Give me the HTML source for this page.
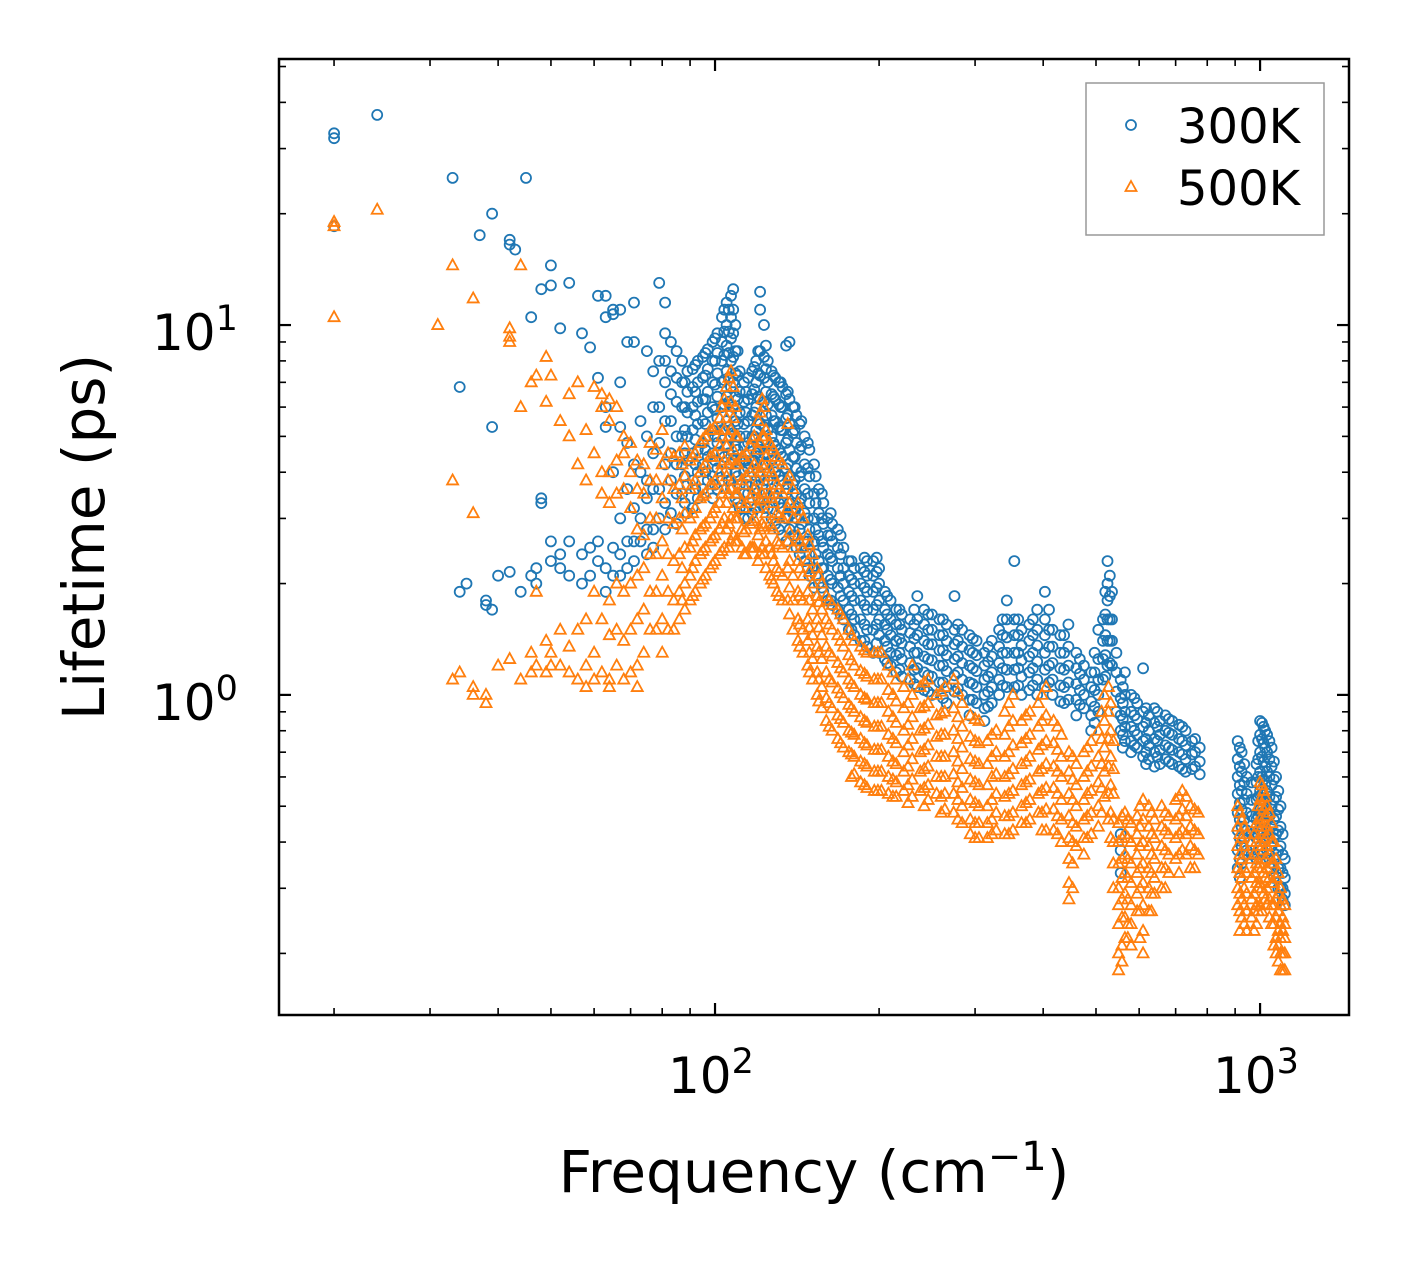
<!DOCTYPE html>
<html><head><meta charset="utf-8"><style>
html,body{margin:0;padding:0;background:#fff;}
svg text{font-family:"DejaVu Sans","Liberation Sans",sans-serif;fill:#000;}
</style></head><body>
<svg id="chart" width="1408" height="1265" viewBox="0 0 1408 1265" xmlns="http://www.w3.org/2000/svg">
<rect width="1408" height="1265" fill="#fff"/>
<g id="marks"></g>
<g id="ticks"></g>
<rect x="279" y="59" width="1070" height="956" fill="none" stroke="#000" stroke-width="2.5"/>
<text x="668" y="1093" font-size="50">10<tspan dy="-20" font-size="35">2</tspan></text>
<text x="1213" y="1093" font-size="50">10<tspan dy="-20" font-size="35">3</tspan></text>
<text x="152" y="350" font-size="50">10<tspan dy="-20" font-size="35">1</tspan></text>
<text x="152" y="720" font-size="50">10<tspan dy="-20" font-size="35">0</tspan></text>
<text x="814" y="1192" font-size="58" text-anchor="middle">Frequency (cm<tspan dy="-22" font-size="40">−1</tspan><tspan dy="22">)</tspan></text>
<text transform="translate(104,537) rotate(-90)" font-size="58" text-anchor="middle">Lifetime (ps)</text>
<g>
<rect x="1086" y="83" width="238" height="152" fill="#fff" stroke="#999" stroke-width="1.5"/>
<circle cx="1131" cy="125" r="5" fill="none" stroke="#1f77b4" stroke-width="1.8"/>
<text x="1177" y="143" font-size="48">300K</text>
<polygon points="1131,181 1136.5,191 1125.5,191" fill="none" stroke="#ff7f0e" stroke-width="1.8"/>
<text x="1177" y="205" font-size="48">500K</text>
</g>
</svg>
<script>
const freq300 = [20,24,33,34,35,37,38,39,40,42,43,44,45,46,47,48,50,52,54,57,59,61,63,65,67,69,71,73,75,77,79,81,83,85,87,89,91,93,95,97,99,101,103,105,107,109,111,113,115,117,119,121,123,125,127,129,131,133,135,137,139,141,143,146,149,152,155,158,161,164,168,172,176,180,185,190,195,200,205,210,215,220,228,235,242,250,258,266,275,284,293,302,312,322,332,343,354,365,377,390,403,416,430,445,460,475,490,505,515,525,535,545,555,565,580,595,610,625,640,655,670,690,710,730,750,775,910,925,945,965,985,1000,1015,1030,1050,1070,1090,1110];
const life300 = [[33,32,18.5],[37],[25],[6.8,1.9],[2],[17.5],[1.75,1.8],[20,5.3,1.7],[2.1],[17,16.5,2.15],[16],[1.9],[25],[10.5,2.1],[2.2,2],[12.5,3.4,3.3],[14.5,12.8,2.6,2.3],[9.8,2.4,2.2],[13,2.1,2.6],[9.5,2.4,2],[8.7,2.5,2.1],[12,7.2,2.6,2.3],[12,10.5,6,5.3,2.2,1.9],[11,10.7,4,2.5,2.1],[11,7,5.3,3,2.4,2.1],[9,4.8,3.6,2.6,2.2],[11.5,9,4.2,3.2,2.6,2.3],[5.5,4,3,2.6],[8.5,5,3.8,3.4,2.8,2.4],[7.5,6,4.5,3.6,2.8,2.5],[13,8,6,4.8,3.6,3],[11.5,9.5,8,7,5.5,4.2,3.3,2.8],[9,7.5,6.5,5.5,4.5,3.8,3.1],[8.5,7.2,6.2,5,4.2,3.5,2.9],[8,7,6,5,4.2,3.5],[7.5,6.6,5.8,5,4.3,3.7,3.1],[7.6,6.8,6,5.2,4.5,3.8,3.2],[8,7,6.2,5.4,4.6,4,3.4],[8.2,7.2,6.3,5.5,4.8,4.2,3.6],[8.6,7.6,6.6,5.8,5,4.4,3.8],[9,8,7,6,5.2,4.5,3.9,3.4],[9.5,8.4,7.4,6.4,5.6,4.8,4.1,3.6],[10.5,9,8,7,6,5.2,4.5,3.8],[11.5,10,8.8,7.5,6.4,5.5,4.7,4],[12,10.5,9.2,8,6.8,5.8,5,4.2,3.6],[10,8.5,7.4,6.4,5.5,4.7,4,3.4],[7.5,6.6,5.8,5,4.3,3.7,3.2],[7,6.2,5.4,4.7,4,3.5,3],[7.2,6.3,5.5,4.8,4.1,3.5,3],[7.5,6.5,5.7,5,4.3,3.7,3.1],[8,7,6,5.2,4.5,3.8,3.2],[12.3,11,8.5,7.3,6.3,5.4,4.6,3.9,3.3],[10,8.2,7.2,6.2,5.3,4.5,3.8,3.2],[8,7,6.1,5.2,4.5,3.8,3.2],[7.5,6.5,5.7,5,4.3,3.6,3],[7.2,6.3,5.5,4.7,4,3.4,2.9],[7,6.1,5.3,4.6,3.9,3.3,2.8],[6.8,6,5.2,4.4,3.8,3.2,2.7],[8.8,6.5,5.6,4.8,4.1,3.5,3,2.6],[9,6.3,5.4,4.6,3.9,3.3,2.8],[6,5.1,4.4,3.7,3.1,2.7],[5.7,4.8,4.1,3.5,3,2.5],[5.4,4.6,3.9,3.3,2.8,2.4],[5,4.2,3.6,3.1,2.6,2.3],[4.6,3.9,3.3,2.8,2.4,2.1],[4.2,3.5,3,2.6,2.2,1.95],[3.6,3.1,2.7,2.3,2],[3.3,2.9,2.5,2.2,1.9],[3,2.7,2.4,2.1,1.8],[2.9,2.6,2.3,2,1.75],[2.8,2.5,2.2,1.95,1.7],[2.5,2.2,2,1.8,1.6],[2.3,2.1,1.9,1.7,1.5],[2.2,2,1.8,1.6,1.45],[2.2,2,1.8,1.6,1.4],[2.3,2.1,1.9,1.7,1.5,1.35],[2.3,2.1,1.9,1.7,1.5,1.3],[2.2,2,1.8,1.6,1.45,1.3],[1.9,1.7,1.55,1.4,1.25],[1.8,1.6,1.45,1.3,1.2],[1.7,1.55,1.4,1.28,1.15],[1.65,1.5,1.38,1.25,1.12],[1.6,1.47,1.35,1.22,1.1],[1.85,1.6,1.45,1.3,1.18,1.05],[1.7,1.55,1.4,1.27,1.15,1.03],[1.65,1.5,1.37,1.24,1.12,1],[1.6,1.45,1.32,1.2,1.08],[1.55,1.4,1.28,1.16,1.05,0.95],[1.85,1.5,1.37,1.25,1.13,1.02],[1.5,1.35,1.22,1.1,1],[1.45,1.32,1.2,1.08,0.97,0.88],[1.4,1.28,1.16,1.05,0.95],[1.3,1.2,1.1,1,0.92,0.85],[1.4,1.27,1.15,1.05,0.95],[1.5,1.35,1.22,1.1,1],[1.8,1.6,1.43,1.3,1.17,1.05],[2.3,1.6,1.45,1.3,1.17,1.05],[1.5,1.36,1.24,1.12,1],[1.55,1.4,1.27,1.15,1.03],[1.7,1.5,1.36,1.23,1.1,1],[1.9,1.6,1.45,1.3,1.17,1.05],[1.5,1.35,1.22,1.1,1],[1.45,1.3,1.18,1.06,0.96],[1.55,1.35,1.2,1.08,0.97],[1.3,1.18,1.07,0.97,0.88],[1.2,1.1,1,0.92],[1.15,1.05,0.96,0.88,0.8],[1.5,1.25,1.1,1,0.9],[1.6,1.4,1.25,1.1],[2.3,2,1.8,1.6,1.4,1.2],[1.9,1.6,1.4,1.2],[1.3,1.15,1.02,0.9],[1.1,0.98,0.88,0.8,0.42,0.38,0.33],[1.15,1,0.9,0.82,0.75],[1,0.9,0.82,0.75,0.7],[0.95,0.86,0.78,0.72],[1.18,0.9,0.82,0.75,0.68],[0.88,0.8,0.73,0.67],[0.92,0.84,0.76,0.7,0.64],[0.85,0.78,0.71,0.65],[0.88,0.8,0.73,0.67],[0.85,0.78,0.71,0.65],[0.83,0.76,0.7,0.64],[0.8,0.73,0.67,0.62],[0.75,0.69,0.63],[0.72,0.66,0.61],[0.75,0.67,0.6,0.54,0.48,0.43,0.38,0.34],[0.7,0.62,0.55,0.49,0.44,0.39,0.35],[0.6,0.54,0.48,0.43,0.38],[0.58,0.52,0.47,0.42,0.37],[0.65,0.58,0.52,0.46,0.41,0.36],[0.85,0.78,0.7,0.62,0.55,0.49,0.43,0.38],[0.82,0.74,0.66,0.59,0.52,0.46,0.41],[0.78,0.7,0.62,0.55,0.49,0.43,0.38],[0.72,0.64,0.57,0.5,0.44,0.39,0.35],[0.6,0.53,0.47,0.42,0.37,0.33],[0.5,0.44,0.39,0.34,0.3],[0.36,0.32,0.29,0.27]];
const freq300b = [88,92,96,100,104,106,108,110,114,118,120,124,128,132,136,140,144,148,153,157,163,170,178,188,198,207,218,232,246,262,279,297,317,337,360,383,410,437,467,497,520,530,560,588,618,648,680,720,760,918,935,992,1008,1022,1040,1060,1080,1100];
const life300b = [[7,6,5.2,4.5,3.9,3.3],[7.8,6.6,5.7,4.9,4.2,3.6],[8.4,7.3,6.3,5.4,4.6,4],[9.2,8,6.9,5.9,5,4.3,3.7],[11,9.6,8.3,7.1,6.1,5.2,4.4],[11,9.6,8.4,7.2,6.2,5.3,4.5,3.8],[12.5,11,9.5,8.2,7,6,5.1,4.3],[8.5,7.3,6.3,5.4,4.6,3.9,3.3],[6.6,5.8,5,4.3,3.7,3.2],[7.7,6.7,5.8,5,4.3,3.6],[8.5,7.4,6.4,5.5,4.7,4,3.4],[8.8,7.6,6.6,5.7,4.9,4.2,3.5],[7.3,6.4,5.5,4.8,4.1,3.5],[7,6,5.2,4.5,3.8,3.2],[6.6,5.7,4.9,4.2,3.6,3],[6,5.2,4.4,3.8,3.2,2.7],[5.5,4.7,4,3.4,2.9,2.5],[4.8,4.1,3.5,3,2.6,2.2],[3.9,3.3,2.8,2.4,2.1],[3.5,3,2.6,2.2,1.95],[3.1,2.7,2.35,2.05,1.8],[2.7,2.4,2.1,1.85,1.65],[2.3,2.05,1.85,1.65,1.5],[2.35,2.15,1.95,1.75,1.55,1.4],[2.35,2.15,1.95,1.75,1.55,1.38],[1.85,1.65,1.5,1.35,1.22],[1.7,1.55,1.42,1.3,1.17],[1.7,1.55,1.42,1.3,1.17,1.07],[1.65,1.5,1.37,1.25,1.13,1.02],[1.6,1.45,1.32,1.2,1.08,0.98],[1.55,1.4,1.27,1.15,1.04],[1.42,1.3,1.18,1.07,0.97],[1.35,1.23,1.12,1.02,0.93],[1.6,1.45,1.3,1.18,1.06],[1.6,1.45,1.3,1.18,1.06],[1.6,1.45,1.3,1.18,1.06],[1.7,1.5,1.35,1.2,1.08],[1.45,1.3,1.17,1.05,0.95],[1.25,1.14,1.03,0.94],[1.3,1.15,1.03,0.93,0.84],[1.9,1.65,1.45,1.28,1.12],[2.1,1.85,1.6,1.4,1.22],[1.05,0.95,0.86,0.78,0.72],[0.98,0.88,0.8,0.73],[0.92,0.84,0.76,0.7,0.65],[0.9,0.82,0.75,0.68],[0.86,0.79,0.72,0.66],[0.82,0.75,0.69,0.63],[0.76,0.7,0.64],[0.72,0.64,0.57,0.51,0.46,0.41,0.36,0.32],[0.65,0.58,0.52,0.46,0.41,0.37],[0.75,0.67,0.6,0.53,0.47,0.42,0.37],[0.84,0.76,0.68,0.6,0.54,0.48,0.42,0.37],[0.8,0.72,0.64,0.57,0.51,0.45,0.4],[0.75,0.67,0.6,0.53,0.47,0.41,0.36],[0.66,0.59,0.52,0.46,0.41,0.36,0.32],[0.55,0.49,0.43,0.38,0.34,0.3],[0.42,0.37,0.33,0.3,0.28]];
const freq500 = [20,24,31,33,34,36,38,40,42,44,46,47,49,50,52,54,56,58,60,62,64,66,68,70,72,74,76,78,80,82,84,86,88,90,92,94,96,98,100,102,104,106,108,110,112,114,116,118,120,122,124,126,128,130,133,136,139,142,145,148,151,154,157,160,164,168,172,176,180,185,190,196,202,208,215,222,230,238,246,255,264,274,284,294,305,316,328,340,352,365,378,392,405,418,432,446,460,475,490,505,518,527,538,550,565,580,595,610,625,640,660,680,700,720,745,770,910,925,945,965,985,1000,1015,1030,1050,1070,1090,1110];
const life500 = [[19,18.5,10.5],[20.5],[10],[14.5,3.8,1.1],[1.15],[11.8,3.1,1.05,1],[1,0.95],[1.2],[9.8,9.3,9,1.25],[14.5,1.1,6],[7,1.15,1.3],[1.9,7.3,1.2],[6.2,8.2,1.4,1.15],[7.3,1.2,1.3],[5.5,1.5,1.2],[6.5,5,1.35,1.15],[7,4.2,1.5,1.1],[5.2,3.8,1.6,1.2,1.05],[6.8,4.5,1.9,1.3,1.1],[6.5,6,4,3.5,1.6,1.15],[6.3,5.5,4,3.3,1.8,1.45,1.1,1.05],[6,4.3,3.5,2,1.5,1.2],[5,4.5,3.6,1.9,1.4,1.1],[4.8,4,3.2,2,1.5,1.15],[4.3,3.6,2.8,2.1,1.6,1.2,1.05],[4.2,3.5,2.7,2.2,1.7,1.3],[4.8,3.8,3,2.4,1.9,1.5],[4.6,3.8,3,2.4,1.9,1.5],[5.2,4.2,3.4,2.6,2.1,1.6,1.3],[4.5,3.8,3,2.4,1.9,1.5],[4.4,3.6,2.9,2.3,1.8,1.5],[4.5,3.7,3,2.4,1.9,1.6],[4.7,3.9,3.1,2.5,2,1.7],[4.3,3.6,3,2.5,2.1,1.8],[4.5,3.8,3.2,2.7,2.3,1.9],[4.8,4,3.4,2.8,2.4,2],[5,4.2,3.5,2.9,2.5,2.1],[5.2,4.4,3.7,3,2.6,2.2],[5.3,4.5,3.8,3.2,2.7,2.3],[5.6,4.7,4,3.3,2.8,2.4],[6.3,5.2,4.3,3.6,3,2.5],[7.2,6,5,4.2,3.5,2.9,2.5],[6.8,5.6,4.6,3.8,3.2,2.7],[5,4.2,3.5,3,2.6],[4.4,3.8,3.3,2.8,2.5],[4.5,3.9,3.3,2.8,2.4],[4.7,4,3.4,2.9,2.5],[5,4.2,3.6,3,2.5],[5.5,4.6,3.8,3.2,2.7,2.3],[6.3,5,4.2,3.5,2.9,2.5],[5.2,4.4,3.7,3.1,2.6,2.2],[4.8,4.1,3.5,2.9,2.5,2.1],[4.6,3.9,3.3,2.8,2.3,2],[4.4,3.7,3.1,2.6,2.2,1.9],[4.2,3.5,3,2.5,2.1,1.8],[5.4,3.8,3.2,2.6,2.2,1.8],[3.6,3,2.5,2.1,1.8,1.5],[3.3,2.7,2.3,1.9,1.6,1.4],[3,2.5,2.1,1.8,1.5,1.3],[2.7,2.3,1.9,1.6,1.4,1.2],[2.4,2,1.7,1.45,1.25,1.1],[2.2,1.85,1.6,1.35,1.15,1],[2,1.7,1.45,1.25,1.05,0.92],[1.85,1.6,1.35,1.15,0.98,0.85],[1.75,1.5,1.27,1.08,0.92,0.8],[1.7,1.45,1.22,1.04,0.88,0.76],[1.6,1.35,1.15,0.98,0.84,0.72],[1.5,1.28,1.1,0.94,0.8,0.7],[1.4,1.2,1.05,0.9,0.78,0.68,0.61],[1.35,1.16,1,0.87,0.76,0.66,0.58],[1.3,1.12,0.97,0.84,0.73,0.64,0.56],[1.3,1.1,0.95,0.82,0.71,0.62,0.55],[1.3,1.1,0.95,0.82,0.71,0.62,0.55],[1.2,1.03,0.9,0.78,0.68,0.6,0.54],[1.1,0.96,0.84,0.74,0.65,0.58,0.53],[1.05,0.92,0.8,0.7,0.62,0.55],[1.2,1,0.87,0.76,0.67,0.59,0.53],[1.05,0.92,0.8,0.7,0.62,0.55],[1.1,0.95,0.83,0.73,0.64,0.57,0.52],[1,0.88,0.77,0.68,0.6,0.54],[1.05,0.9,0.78,0.68,0.6,0.54,0.49],[1.1,0.92,0.8,0.7,0.61,0.54,0.48],[0.95,0.82,0.72,0.63,0.56,0.5,0.45],[0.88,0.77,0.67,0.59,0.52,0.46,0.42],[0.85,0.74,0.65,0.57,0.5,0.45,0.41],[0.75,0.65,0.57,0.5,0.45,0.41],[0.8,0.7,0.61,0.54,0.48,0.43],[0.9,0.78,0.68,0.6,0.53,0.47,0.42],[1,0.85,0.73,0.63,0.55,0.48,0.43],[0.85,0.74,0.65,0.57,0.5,0.45],[0.9,0.78,0.68,0.59,0.52,0.46],[0.95,0.82,0.71,0.62,0.54,0.48],[1.05,0.88,0.75,0.65,0.56,0.49,0.43],[0.85,0.74,0.64,0.56,0.49,0.43],[0.78,0.68,0.6,0.52,0.46,0.4],[0.7,0.62,0.54,0.47,0.41,0.36,0.31,0.28],[0.65,0.57,0.5,0.44,0.39],[0.7,0.6,0.52,0.46,0.41,0.37],[0.75,0.64,0.55,0.48,0.42],[0.8,0.68,0.58,0.5,0.44],[1,0.85,0.72,0.62,0.53],[1.05,0.9,0.76,0.64,0.54,0.46],[0.75,0.63,0.54,0.46,0.4,0.35,0.3],[0.45,0.4,0.35,0.3,0.27,0.24,0.2,0.18],[0.48,0.42,0.37,0.33,0.29,0.25,0.22],[0.45,0.4,0.35,0.31,0.27,0.24,0.21],[0.47,0.42,0.37,0.33,0.29,0.26],[0.52,0.46,0.4,0.35,0.31,0.27,0.23,0.2],[0.5,0.44,0.39,0.34,0.3,0.26],[0.46,0.41,0.36,0.32,0.29],[0.5,0.44,0.39,0.34,0.3],[0.47,0.42,0.37,0.33],[0.52,0.46,0.41,0.36],[0.55,0.49,0.43,0.38],[0.5,0.44,0.39,0.34],[0.48,0.42,0.37],[0.5,0.44,0.39,0.34,0.3,0.27],[0.46,0.41,0.36,0.32,0.28,0.25],[0.42,0.37,0.33,0.29,0.26,0.23],[0.4,0.36,0.32,0.28,0.25],[0.45,0.4,0.35,0.31,0.27,0.24],[0.58,0.52,0.46,0.4,0.35,0.31,0.27],[0.55,0.49,0.43,0.38,0.33,0.29],[0.5,0.44,0.39,0.34,0.3,0.27],[0.45,0.4,0.35,0.31,0.27,0.24],[0.36,0.32,0.28,0.25,0.22,0.2],[0.3,0.27,0.24,0.22,0.2,0.18],[0.27,0.24,0.22,0.2,0.18]];
const freq500b = [87,91,95,99,103,105,107,109,113,117,121,123,127,131,137,143,149,155,162,170,178,188,199,212,226,242,260,279,300,322,346,372,398,425,453,482,512,532,558,572,602,632,670,710,732,758,918,935,975,992,1008,1022,1040,1060,1080,1100];
const life500b = [[4.2,3.4,2.8,2.2,1.8],[4.4,3.7,3.1,2.6,2.2,1.85],[4.9,4.1,3.45,2.85,2.45,2.05],[5.2,4.4,3.7,3.1,2.65,2.25],[6,5,4.2,3.5,2.9,2.45],[6.8,5.6,4.7,3.9,3.3,2.8],[7.5,6.2,5.2,4.3,3.6,3,2.6],[6,5,4.2,3.5,3,2.6],[4.4,3.7,3.2,2.75,2.4],[4.9,4.1,3.5,2.95,2.5],[5.8,4.8,4,3.35,2.8,2.4],[6,5,4.1,3.4,2.85,2.4],[4.7,4,3.4,2.85,2.4,2.05],[4.3,3.6,3.05,2.55,2.15,1.85],[3.9,3.3,2.75,2.3,1.95,1.65],[3.15,2.6,2.2,1.85,1.55,1.35],[2.55,2.15,1.8,1.52,1.3,1.15],[2.1,1.78,1.52,1.3,1.1,0.96],[1.8,1.55,1.3,1.1,0.95,0.82],[1.65,1.4,1.18,1.01,0.86,0.74],[1.45,1.24,1.07,0.92,0.79,0.69,0.6],[1.32,1.14,0.98,0.85,0.74,0.65,0.57],[1.3,1.1,0.95,0.82,0.71,0.62,0.55],[1.15,1,0.87,0.76,0.66,0.59,0.53],[1.1,0.95,0.83,0.73,0.64,0.57,0.51],[1.08,0.93,0.81,0.71,0.63,0.56,0.5],[1.02,0.89,0.78,0.68,0.6,0.53,0.48],[1.02,0.87,0.76,0.66,0.58,0.52,0.46],[0.86,0.75,0.66,0.58,0.51,0.45,0.41],[0.78,0.68,0.6,0.52,0.46,0.42],[0.95,0.82,0.7,0.61,0.54,0.47,0.42],[0.88,0.76,0.66,0.58,0.51,0.45],[1,0.85,0.73,0.63,0.55,0.48,0.43],[0.82,0.71,0.62,0.54,0.47,0.42],[0.68,0.59,0.52,0.45,0.4,0.35,0.3],[0.72,0.62,0.54,0.47,0.41],[0.9,0.76,0.65,0.56,0.48],[0.95,0.8,0.68,0.57,0.48,0.41],[0.47,0.41,0.36,0.32,0.28,0.25,0.21,0.19],[0.46,0.41,0.36,0.32,0.28,0.24,0.22],[0.5,0.44,0.39,0.34,0.3,0.26,0.22],[0.48,0.42,0.37,0.33,0.29,0.26],[0.48,0.43,0.38,0.34,0.3],[0.53,0.47,0.42,0.37,0.33],[0.53,0.47,0.42,0.37],[0.49,0.43,0.38,0.34],[0.48,0.42,0.37,0.33,0.29,0.26,0.23],[0.44,0.39,0.34,0.3,0.27,0.24],[0.42,0.37,0.33,0.29,0.26,0.23],[0.5,0.44,0.39,0.34,0.3,0.26],[0.57,0.5,0.44,0.39,0.34,0.3,0.26],[0.53,0.47,0.41,0.36,0.32,0.28],[0.48,0.42,0.37,0.32,0.28,0.25],[0.4,0.35,0.31,0.27,0.24,0.21],[0.33,0.29,0.26,0.23,0.21,0.19],[0.28,0.25,0.23,0.2,0.18]];
const xMajorTicks = [100,1000];
const xMinorTicks = [20,30,40,50,60,70,80,90,200,300,400,500,600,700,800,900];
const yMajorTicks = [1,10];
const yMinorTicks = [0.2,0.3,0.4,0.5,0.6,0.7,0.8,0.9,2,3,4,5,6,7,8,9,20,30,40,50];

const L=279,R=1349,T=59,B=1015;
const XMIN=Math.log10(15.85),XMAX=Math.log10(1456);
const YMIN=Math.log10(0.1363),YMAX=Math.log10(52.4);
function xScale(v){return L+(Math.log10(v)-XMIN)/(XMAX-XMIN)*(R-L);}
function yScale(v){return B-(Math.log10(v)-YMIN)/(YMAX-YMIN)*(B-T);}
const NS="http://www.w3.org/2000/svg";
const marks=document.getElementById('marks');
const g300=document.createElementNS(NS,'g');


marks.appendChild(g300);
function drawCircles(freqs,lifes){freqs.forEach((f,i)=>{lifes[i].forEach(t=>{
  const c=document.createElementNS(NS,'circle');
  
  
  c.setAttribute('cx',xScale(f).toFixed(1));c.setAttribute('cy',yScale(t).toFixed(1));
  c.setAttribute('r','5');c.setAttribute('fill','none');c.setAttribute('stroke','#1f77b4');c.setAttribute('stroke-width','1.8');
  g300.appendChild(c);});});}
drawCircles(freq300,life300);
drawCircles(freq300b,life300b);
const g500=document.createElementNS(NS,'g');


marks.appendChild(g500);
function drawTris(freqs,lifes){freqs.forEach((f,i)=>{lifes[i].forEach(t=>{
  const x=xScale(f),y=yScale(t);
  const p=document.createElementNS(NS,'polygon');
  
  
  p.setAttribute('points',`${x},${y-6} ${x+5.5},${y+4} ${x-5.5},${y+4}`);
  p.setAttribute('fill','none');p.setAttribute('stroke','#ff7f0e');p.setAttribute('stroke-width','1.8');
  g500.appendChild(p);});});}
drawTris(freq500,life500);
drawTris(freq500b,life500b);
const ticks=document.getElementById('ticks');
function line(x1,y1,x2,y2,w){
  const l=document.createElementNS(NS,'line');
  
  
  l.setAttribute('x1',x1);l.setAttribute('y1',y1);l.setAttribute('x2',x2);l.setAttribute('y2',y2);
  l.setAttribute('stroke','#000');l.setAttribute('stroke-width',w);ticks.appendChild(l);}
xMajorTicks.forEach(v=>{const x=xScale(v);line(x,B,x,B-12,2.2);line(x,T,x,T+12,2.2);});
xMinorTicks.forEach(v=>{const x=xScale(v);line(x,B,x,B-7,1.6);line(x,T,x,T+7,1.6);});
yMajorTicks.forEach(v=>{const y=yScale(v);line(L,y,L+12,y,2.2);line(R,y,R-12,y,2.2);});
yMinorTicks.forEach(v=>{const y=yScale(v);line(L,y,L+7,y,1.6);line(R,y,R-7,y,1.6);});
</script>
</body></html>
